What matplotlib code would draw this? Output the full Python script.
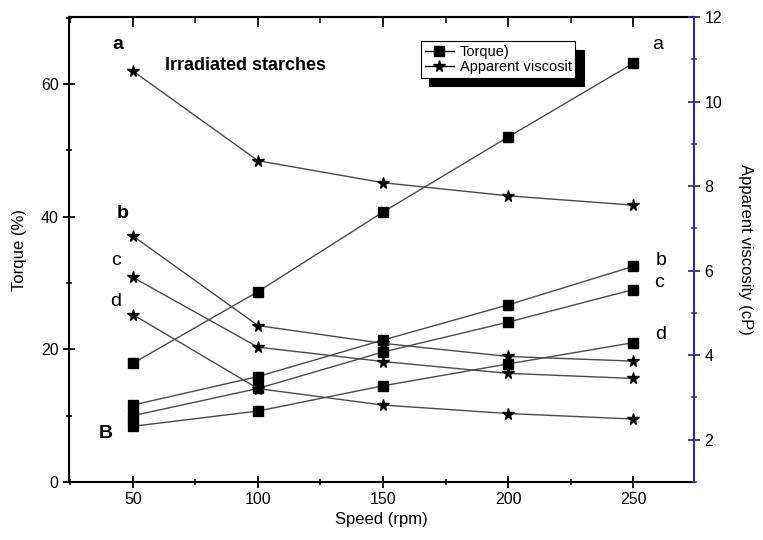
import matplotlib
matplotlib.use("Agg")
import matplotlib.pyplot as plt
from matplotlib.ticker import MultipleLocator

plt.rcParams['font.family'] = ['Liberation Sans', 'DejaVu Sans']

speed = [50, 100, 150, 200, 250]

torque_a = [17.9, 28.7, 40.7, 52.0, 63.1]
torque_b = [11.6, 15.9, 21.4, 26.7, 32.5]
torque_c = [10.0, 14.1, 19.6, 24.1, 29.0]
torque_d = [8.4, 10.7, 14.5, 17.8, 21.0]

visc_a = [10.72, 8.60, 8.08, 7.77, 7.55]
visc_b = [6.82, 4.70, 4.28, 3.97, 3.86]
visc_c = [5.84, 4.19, 3.85, 3.57, 3.45]
visc_d = [4.96, 3.21, 2.82, 2.62, 2.49]

line_color = '#4a4a4a'
blue = '#2e2e9c'

fig = plt.figure(figsize=(7.63, 5.4), dpi=100)
ax = fig.add_axes([0.0904, 0.1074, 0.8192, 0.8611])
ax2 = ax.twinx()

sq = dict(color=line_color, lw=1.0, marker='s', markersize=6.5,
          markerfacecolor='black', markeredgecolor='black')
st = dict(color=line_color, lw=1.0, marker='*', markersize=8.5,
          markerfacecolor='black', markeredgecolor='black')

for i, t in enumerate([torque_a, torque_b, torque_c, torque_d]):
    ax.plot(speed, t, label='Torque)' if i == 0 else None, **sq)
for i, v in enumerate([visc_a, visc_b, visc_c, visc_d]):
    ax2.plot(speed, v, label='Apparent viscosit' if i == 0 else None, **st)

ax.set_xlim(24.4, 274.4)
ax.set_ylim(0, 70.1)
ax2.set_ylim(1.0, 12.0)

ax.xaxis.set_major_locator(MultipleLocator(50))
ax.xaxis.set_minor_locator(MultipleLocator(25))
ax.yaxis.set_major_locator(MultipleLocator(20))
ax.yaxis.set_minor_locator(MultipleLocator(10))
ax2.yaxis.set_major_locator(MultipleLocator(2))
ax2.yaxis.set_minor_locator(MultipleLocator(1))

ax.tick_params(axis='both', which='major', direction='inout', length=8, width=1.3, labelsize=11.5)
ax.tick_params(axis='both', which='minor', direction='inout', length=5, width=1.1)
ax2.tick_params(axis='y', which='major', direction='inout', length=8, width=1.3,
                labelsize=11.5, color=blue, labelcolor='black')
ax2.tick_params(axis='y', which='minor', direction='inout', length=5, width=1.1, color=blue)

top = ax.secondary_xaxis('top')
top.xaxis.set_major_locator(MultipleLocator(50))
top.xaxis.set_minor_locator(MultipleLocator(25))
top.tick_params(which='major', direction='in', length=7, width=1.3, labeltop=False)
top.tick_params(which='minor', direction='in', length=4, width=1.1)
top.spines['top'].set_linewidth(1.5)

for s in ['left', 'bottom', 'top']:
    ax.spines[s].set_linewidth(1.5)
ax.spines['right'].set_visible(False)
ax2.spines['left'].set_visible(False)
ax2.spines['top'].set_visible(False)
ax2.spines['bottom'].set_visible(False)
ax2.spines['right'].set_color(blue)
ax2.spines['right'].set_linewidth(1.5)

ax.set_xlabel('Speed (rpm)', fontsize=12, labelpad=3)
ax.set_ylabel('Torque (%)', fontsize=12, labelpad=10)
ax2.set_ylabel('Apparent viscosity (cP)', fontsize=12, rotation=-90, labelpad=22)

h1, l1 = ax.get_legend_handles_labels()
h2, l2 = ax2.get_legend_handles_labels()
leg = ax2.legend(h1 + h2, l1 + l2, loc='upper left', bbox_to_anchor=(0.563, 0.948),
                 borderaxespad=0, fancybox=False, edgecolor='black', framealpha=1,
                 fontsize=10.5, handlelength=2.0, handletextpad=0.4, borderpad=0.25,
                 labelspacing=0.1,
                 shadow={'ox': 6, 'oy': -6, 'color': 'black', 'alpha': 1})
leg.get_frame().set_linewidth(0.8)
for line in leg.get_lines():
    line.set_color('black')

T = ax.transAxes
ax.text(0.154, 0.895, 'Irradiated starches', transform=T, fontsize=13, fontweight='bold',
        ha='left', va='center')
ax.text(0.078, 0.94, 'a', transform=T, fontsize=14, fontweight='bold', ha='center', va='center')
ax.text(0.086, 0.578, 'b', transform=T, fontsize=14, fontweight='bold', ha='center', va='center')
ax.text(0.075, 0.477, 'c', transform=T, fontsize=14, ha='center', va='center')
ax.text(0.074, 0.389, 'd', transform=T, fontsize=14, ha='center', va='center')
ax.text(0.059, 0.105, 'B', transform=T, fontsize=14, fontweight='bold', ha='center', va='center')
ax.text(0.941, 0.94, 'a', transform=T, fontsize=14, ha='center', va='center')
ax.text(0.947, 0.477, 'b', transform=T, fontsize=14, ha='center', va='center')
ax.text(0.944, 0.428, 'c', transform=T, fontsize=14, ha='center', va='center')
ax.text(0.947, 0.318, 'd', transform=T, fontsize=14, ha='center', va='center')

fig.savefig('out.png', dpi=100)
